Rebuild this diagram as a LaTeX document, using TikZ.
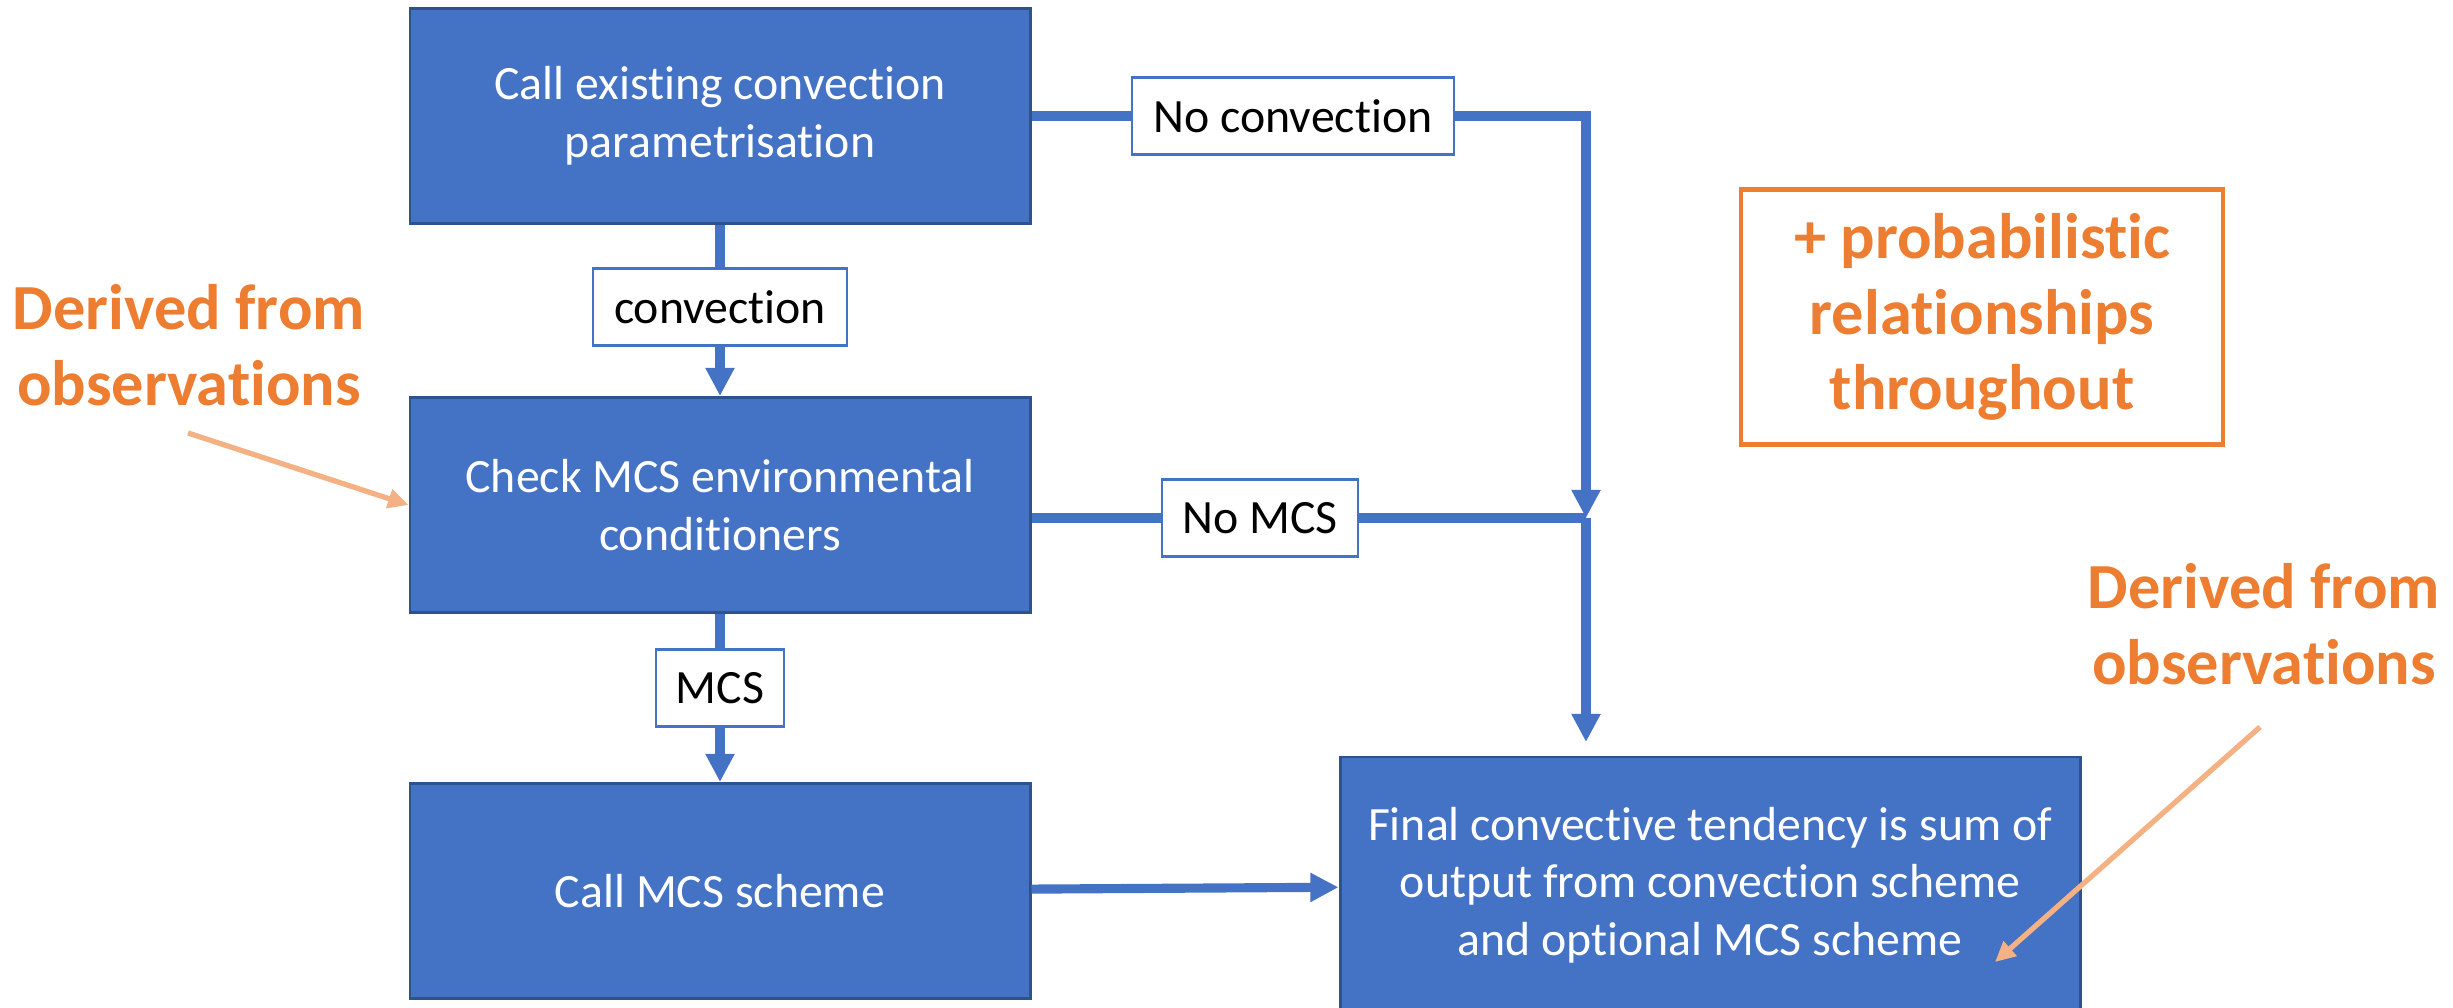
\documentclass[tikz,border=0pt]{standalone}
\usepackage{fontspec}
\setmainfont{Carlito}[Ligatures={NoCommon}]
\usepackage{xcolor}
\usepackage{tikz}
\usetikzlibrary{arrows.meta, positioning, calc}

\definecolor{boxblue}{HTML}{4472C4}
\definecolor{boxedge}{HTML}{2F528F}
\definecolor{obsorange}{HTML}{ED7D31}
\definecolor{obslight}{HTML}{F4B183}

\begin{document}
\begin{tikzpicture}[
  every node/.style={font=\fontsize{13.6}{16.4}\selectfont},
  stepbox/.style={draw=boxedge, line width=0.85pt, fill=boxblue, text=white,
    minimum width=6.2cm, minimum height=2.15cm, align=center, inner sep=0pt},
  tag/.style={draw=boxblue, line width=0.6pt, fill=white, text=black,
    minimum height=0.77cm, inner sep=0pt},
  wire/.style={draw=boxblue, line width=2.6pt},
  flow/.style={wire, -{Triangle[length=8pt, width=7.8pt]}},
  note/.style={text=obsorange, align=center,
    font=\fontsize{18.3}{21.5}\selectfont\bfseries},
  obsarrow/.style={draw=obslight, line width=1.5pt,
    -{Triangle[length=5.8pt, width=5.4pt]}}
]

  % --- Page frame (2453 x 1007 px, 1 px = 0.01 cm) ----
  \useasboundingbox (0,0) rectangle (24.53,10.07);
  \clip (0,0) rectangle (24.53,10.07);

  % Main boxes
  \node[stepbox] (call)    at (7.20,8.91) {Call existing convection\\parametrisation};
  \node[stepbox] (check)   at (7.20,5.02) {Check MCS environmental\\conditioners};
  \node[stepbox] (callmcs) at (7.20,1.16) {Call MCS scheme};
  \node[stepbox, minimum width=7.4cm, minimum height=2.56cm]
    (final) at (17.10,1.22)
    {Final convective tendency is sum of\\output from convection scheme\\and optional MCS scheme};

  % Branch labels
  \node[tag, minimum width=2.54cm] (conv)   at (7.20,7.00)  {convection};
  \node[tag, minimum width=1.28cm] (mcs)    at (7.20,3.19)  {MCS};
  \node[tag, minimum width=3.22cm] (noconv) at (12.93,8.91) {No convection};
  \node[tag, minimum width=1.96cm] (nomcs)  at (12.60,4.89) {No MCS};

  % Joints on the right-hand collector
  \coordinate (join) at (15.86,4.89);
  \coordinate (drop) at (15.86,2.65);

  % Connectors
  \draw[wire] (call) -- (conv);
  \draw[flow] (conv) -- (check);
  \draw[wire] (check) -- (mcs);
  \draw[flow] (mcs) -- (callmcs);
  \draw[wire] (call) -- (noconv);
  \draw[flow] (noconv) -| (join);
  \draw[wire] (check.east |- nomcs) -- (nomcs);
  \draw[wire] (nomcs) -- (join);
  \draw[flow] (join) -- (drop);
  \draw[flow] (callmcs) -- (final);

  % Notes
  \node[note] (obsleft)  at (1.89,6.62)  {Derived from\\observations};
  \node[note] (obsright) at (22.64,3.83) {Derived from\\observations};
  \node[note, draw=obsorange, line width=1.3pt, minimum width=4.82cm,
    minimum height=2.55cm] (prob) at (19.82,6.90)
    {+ probabilistic\\relationships\\throughout};

  \coordinate (tailA) at (1.88,5.74);
  \coordinate (tailB) at (22.60,2.80);
  \coordinate (tipB)  at (19.95,0.45);
  \draw[obsarrow] (tailA) -- (check.west);
  \draw[obsarrow] (tailB) -- (tipB);
\end{tikzpicture}
\end{document}
